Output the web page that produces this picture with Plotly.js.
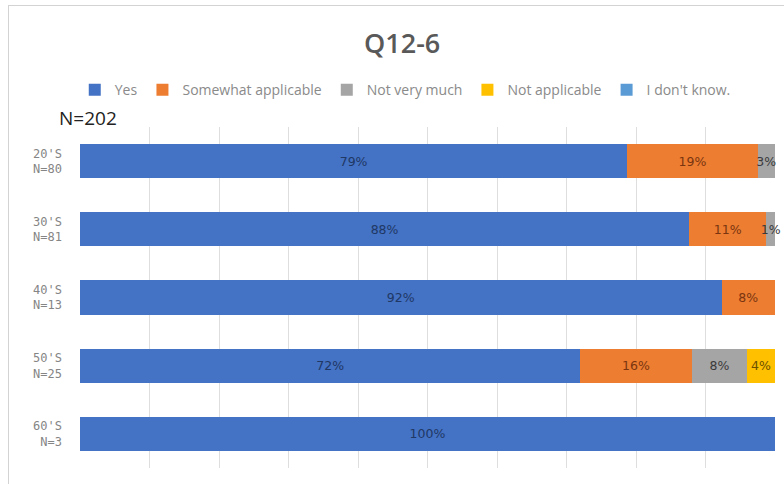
<!DOCTYPE html>
<html>
<head>
<meta charset="utf-8">
<script src="https://cdn.plot.ly/plotly-3.0.1.min.js"></script>
<style>
html,body{margin:0;padding:0;background:#fff;}
#wrap{position:relative;width:784px;height:484px;overflow:hidden;}
#chart{width:784px;height:484px;}
#frame{position:absolute;left:8px;top:5px;width:800px;height:500px;border:1.5px solid #d3d3d3;pointer-events:none;}
</style>
</head>
<body>
<div id="wrap"><div id="chart"></div><div id="frame"></div></div>
<script>
// Age groups (top to bottom)
var categories = ["20'S<br>N=80", "30'S<br>N=81", "40'S<br>N=13", "50'S<br>N=25", "60'S<br>N=3"];
// Percentages per response
var yesVals        = [78.75, 87.65, 92.31, 72, 100];
var somewhatVals   = [18.75, 11.11, 7.69, 16, 0];
var notMuchVals    = [2.5, 1.23, 0, 8, 0];
var notApplVals    = [0, 0, 0, 4, 0];
var dontKnowVals   = [0, 0, 0, 0, 0];
var seriesNames = ["Yes", "Somewhat applicable", "Not very much", "Not applicable", "I don't know."];
var titleText = "Q12-6";
var sampleNote = "N=202";

var colors = ["#4472C4", "#ED7D31", "#A5A5A5", "#FFC000", "#5B9BD5"];
var textColors = ["#1f3864", "#7a3510", "#3a3a3a", "#6b5000", "#1f3864"];
var allVals = [yesVals, somewhatVals, notMuchVals, notApplVals, dontKnowVals];

function labels(v){ return v.map(function(x){ return x > 0 ? Math.round(x) + '%' : ''; }); }

var traces = allVals.map(function(vals, i){
  return {
    type: 'bar',
    orientation: 'h',
    name: seriesNames[i],
    y: categories,
    x: vals,
    text: labels(vals),
    textposition: 'inside',
    insidetextanchor: 'middle',
    textangle: 0,
    constraintext: 'none',
    cliponaxis: false,
    textfont: {family: 'DejaVu Sans, sans-serif', size: 12.5, color: textColors[i]},
    marker: {color: colors[i], line: {width: 0}},
    hoverinfo: 'none'
  };
});

var layout = {
  width: 784, height: 484,
  margin: {l: 80, r: 9, t: 127, b: 16},
  paper_bgcolor: '#ffffff',
  plot_bgcolor: '#ffffff',
  barmode: 'stack',
  bargap: 0.5,
  showlegend: true,
  title: {
    text: titleText,
    x: 0.513, xanchor: 'center', xref: 'container',
    y: 0.91, yanchor: 'middle', yref: 'container',
    font: {family: 'Open Sans, sans-serif', size: 27, color: '#595959', weight: 600}
  },
  legend: {
    orientation: 'h',
    x: 0.468, xanchor: 'center',
    y: 1.108, yanchor: 'middle',
    font: {family: 'Open Sans, sans-serif', size: 14, color: '#8a8a8a'},
    traceorder: 'normal',
    itemclick: false
  },
  xaxis: {
    range: [0, 100],
    dtick: 10,
    showgrid: true,
    gridcolor: '#dedede',
    gridwidth: 1,
    zeroline: false,
    showticklabels: false,
    showline: false,
    fixedrange: true
  },
  yaxis: {
    autorange: 'reversed',
    type: 'category',
    showgrid: false,
    zeroline: false,
    showline: false,
    ticks: '',
    ticklabelstandoff: 17,
    tickfont: {family: 'DejaVu Sans Mono, monospace', size: 12, color: '#858585'},
    fixedrange: true
  },
  annotations: [{
    text: sampleNote,
    xref: 'paper', yref: 'paper',
    x: -0.033, xanchor: 'left',
    y: 1.026, yanchor: 'middle',
    showarrow: false,
    font: {family: 'Open Sans, sans-serif', size: 19, color: '#222222'}
  }]
};

Plotly.newPlot('chart', traces, layout, {displayModeBar: false, staticPlot: true});
</script>
</body>
</html>
